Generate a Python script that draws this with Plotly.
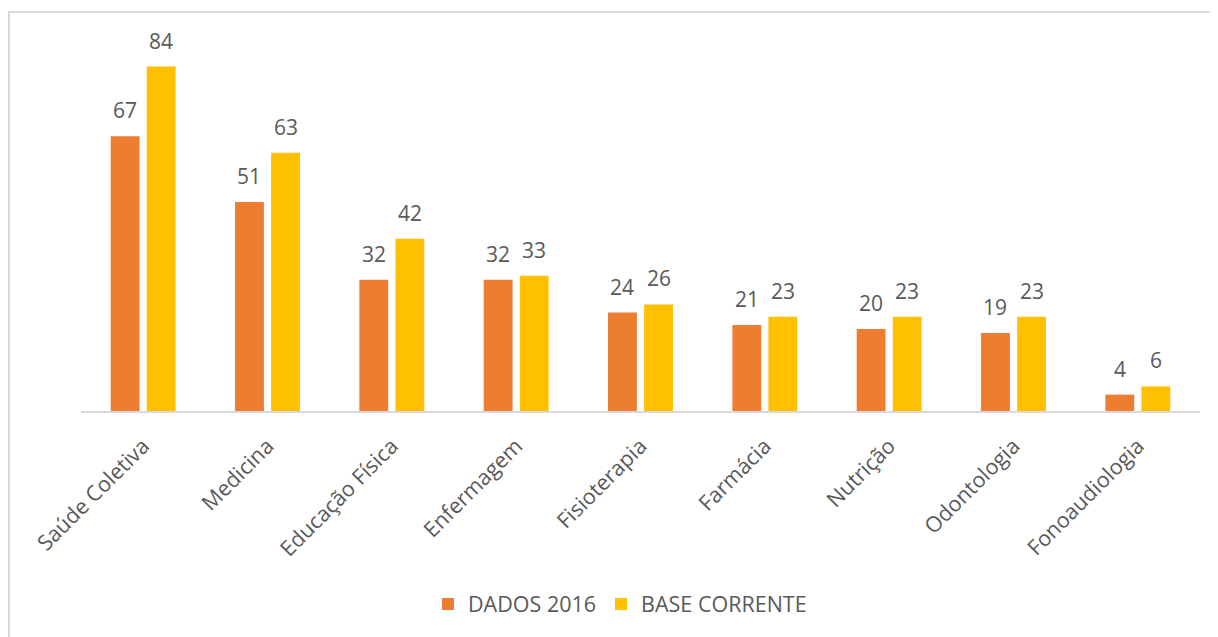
import plotly.graph_objects as go

categories = ["Saúde Coletiva", "Medicina", "Educação Física", "Enfermagem", "Fisioterapia",
              "Farmácia", "Nutrição", "Odontologia", "Fonoaudiologia"]
dados_2016 = [67, 51, 32, 32, 24, 21, 20, 19, 4]
base_corrente = [84, 63, 42, 33, 26, 23, 23, 23, 6]
series_names = ["DADOS 2016", "BASE CORRENTE"]
colors = ["#ED7D31", "#FFC000"]

PAGE_OFF = 8  # body margin of the html page
W, H = 1218 - PAGE_OFF, 637 - PAGE_OFF
# plot area in page pixels: x 81..1200, y 42..411
L = 81 - PAGE_OFF
R = W - (1200 - PAGE_OFF)
T = 42 - PAGE_OFF
B = H - (411 - PAGE_OFF)
TXT = "#595959"
FONT = "Open Sans, Segoe UI, sans-serif"

fig = go.Figure()
for name, vals, col in zip(series_names, [dados_2016, base_corrente], colors):
    fig.add_trace(go.Bar(x=categories, y=vals, name=name, marker=dict(color=col, line=dict(width=0))))

plot_w = W - L - R
plot_h = H - T - B
cat_w = plot_w / len(categories)
bargap = 0.42
off = cat_w * (1 - bargap) / 4
annotations = []
for vals, sign in [(dados_2016, -1), (base_corrente, 1)]:
    for c, v in zip(categories, vals):
        annotations.append(dict(x=c, y=v, text=str(v), showarrow=False, xref="x", yref="y",
                                xshift=sign * off, yanchor="bottom", yshift=10,
                                font=dict(size=21, color=TXT, family=FONT)))

def px_x(p):  # page x -> paper
    return (p - PAGE_OFF - L) / plot_w

def px_y(p):  # page y -> paper
    return (H - B - (p - PAGE_OFF)) / plot_h

fig.update_layout(
    width=W, height=H,
    margin=dict(l=L, r=R, t=T, b=B),
    paper_bgcolor="white", plot_bgcolor="white",
    barmode="group", bargap=bargap, bargroupgap=0.2,
    font=dict(family=FONT, color=TXT, size=21),
    showlegend=True,
    legend=dict(orientation="h", x=px_x(620), xanchor="center",
                y=px_y(604), yanchor="middle",
                font=dict(size=21.5, color=TXT, family=FONT), traceorder="normal"),
    annotations=annotations,
    xaxis=dict(showline=True, linecolor="#D9D9D9", linewidth=2, ticks="", tickangle=-45,
               tickfont=dict(size=21.5, color=TXT, family=FONT), showgrid=False, automargin=False,
               ticklabelstandoff=12),
    yaxis=dict(range=[0, 90], showline=False, showticklabels=False, showgrid=False, zeroline=False),
    shapes=[
        dict(type="line", xref="paper", yref="paper", x0=px_x(8), x1=px_x(1240),
             y0=px_y(12), y1=px_y(12), line=dict(color="#D9D9D9", width=2)),
        dict(type="line", xref="paper", yref="paper", x0=px_x(9), x1=px_x(9),
             y0=px_y(12), y1=px_y(660), line=dict(color="#D9D9D9", width=2)),
    ],
)
fig.write_html("out.html")
